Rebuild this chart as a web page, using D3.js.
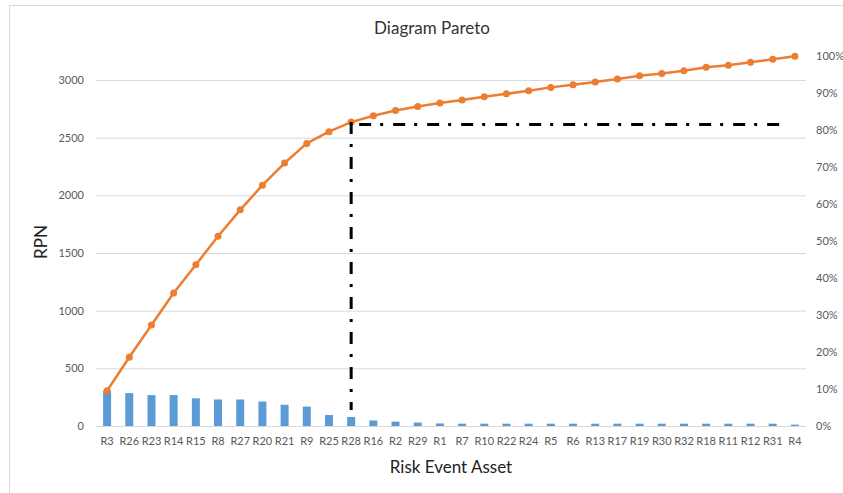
<!DOCTYPE html>
<html><head><meta charset="utf-8">
<script src="https://cdn.jsdelivr.net/npm/d3@7"></script>
<style>
body{margin:0;background:#fff}
svg{display:block}
text{font-family:Lato,"Open Sans",sans-serif}
</style>
</head><body>
<svg id="c" width="843" height="493"></svg>
<script>
const categories = ["R3","R26","R23","R14","R15","R8","R27","R20","R21","R9","R25","R28","R16","R2","R29","R1","R7","R10","R22","R24","R5","R6","R13","R17","R19","R30","R32","R18","R11","R12","R31","R4"];
const rpn = [305,285,268,268,240,230,230,212,184,168,95,78,48,38,30,22,20,20,20,20,20,20,20,20,20,20,20,20,20,20,20,12];
const cumulative = [306,596,875,1153,1398,1645,1874,2088,2280,2450,2552,2635,2690,2735,2771,2800,2827,2855,2880,2906,2936,2958,2983,3009,3036,3056,3081,3110,3128,3153,3179,3205];
const leftTicks = [0,500,1000,1500,2000,2500,3000];
const rightTicks = [0,0.1,0.2,0.3,0.4,0.5,0.6,0.7,0.8,0.9,1.0];
const refCategory = "R28";
const refLevel = 2614;
const refBottom = 139;
const title = "Diagram Pareto";
const xTitle = "Risk Event Asset";
const yTitle = "RPN";

const svg = d3.select("#c");
const plotL = 96, plotR = 806, plotB = 426, plotT = 80, rightTop = 56;

const x = d3.scaleBand().domain(categories).range([plotL, plotR]).paddingInner(0).paddingOuter(0);
const yL = d3.scaleLinear().domain([0, 3000]).range([plotB, plotT]);
const yR = d3.scaleLinear().domain([0, 1]).range([plotB, rightTop]);
const cx = c => x(c) + x.bandwidth() / 2;

// chart frame
svg.append("rect").attr("x", 9.5).attr("y", 5.5).attr("width", 900).attr("height", 600)
  .attr("fill", "none").attr("stroke", "#d9d9d9").attr("stroke-width", 1);

// gridlines via axis
const gridAxis = d3.axisLeft(yL).tickValues(leftTicks).tickSize(-(plotR - plotL)).tickFormat("");
const g = svg.append("g").attr("transform", `translate(${plotL},0)`).call(gridAxis);
g.select(".domain").remove();
g.selectAll(".tick line").attr("stroke", "#d9d9d9").attr("stroke-width", 1);

// left tick labels
const la = d3.axisLeft(yL).tickValues(leftTicks).tickSize(0).tickPadding(0).tickFormat(d3.format("d"));
const lg = svg.append("g").attr("transform", `translate(84,0)`).call(la);
lg.select(".domain").remove();
lg.selectAll("text").attr("fill", "#595959").style("font-size", "11px").style("font-family", "Lato");

// right tick labels
const ra = d3.axisRight(yR).tickValues(rightTicks).tickSize(0).tickPadding(0).tickFormat(d3.format(".0%"));
const rg = svg.append("g").attr("transform", `translate(816,0)`).call(ra);
rg.select(".domain").remove();
rg.selectAll("text").attr("fill", "#595959").style("font-size", "11px").style("font-family", "Lato");

// x tick labels
const xa = d3.axisBottom(x).tickSize(0).tickPadding(0);
const xg = svg.append("g").attr("transform", `translate(0,437)`).call(xa);
xg.select(".domain").remove();
xg.selectAll("text").attr("fill", "#595959").style("font-size", "11px").style("font-family", "Lato");

// bars
const bw = 8;
svg.append("g").selectAll("rect").data(categories).join("rect")
  .attr("x", (d) => cx(d) - bw / 2)
  .attr("width", bw)
  .attr("y", (d, i) => yL(rpn[i]))
  .attr("height", (d, i) => plotB - yL(rpn[i]))
  .attr("fill", "#5B9BD5");

// cumulative line
const line = d3.line().x((d, i) => cx(categories[i])).y(d => yL(d));
svg.append("path").datum(cumulative).attr("d", line)
  .attr("fill", "none").attr("stroke", "#ED7D31").attr("stroke-width", 2.5).attr("stroke-linejoin", "round");
svg.append("g").selectAll("circle").data(cumulative).join("circle")
  .attr("cx", (d, i) => cx(categories[i])).attr("cy", d => yL(d)).attr("r", 3.5)
  .attr("fill", "#ED7D31");

// reference dash-dot lines
const rx = cx(refCategory);
const rEnd = cx(categories[categories.length - 1]) - 9;
svg.append("line").attr("x1", rx).attr("x2", rx).attr("y1", yL(refLevel) - 2.5).attr("y2", yL(refBottom))
  .attr("stroke", "#000").attr("stroke-width", 3).attr("stroke-dasharray", "12,10,3,10");
svg.append("line").attr("x1", rx).attr("x2", rEnd).attr("y1", yL(refLevel)).attr("y2", yL(refLevel))
  .attr("stroke", "#000").attr("stroke-width", 3).attr("stroke-dasharray", "12,9,3,10").attr("stroke-dashoffset", 26);

// titles
svg.append("text").attr("x", 432).attr("y", 34).attr("text-anchor", "middle")
  .style("font-size", "17px").attr("fill", "#333").text(title);
svg.append("text").attr("x", 451).attr("y", 473).attr("text-anchor", "middle")
  .style("font-size", "17px").attr("fill", "#222").text(xTitle);
svg.append("text").attr("transform", "translate(47,242) rotate(-90)").attr("text-anchor", "middle")
  .style("font-size", "17px").attr("fill", "#222").text(yTitle);
</script>
</body></html>
